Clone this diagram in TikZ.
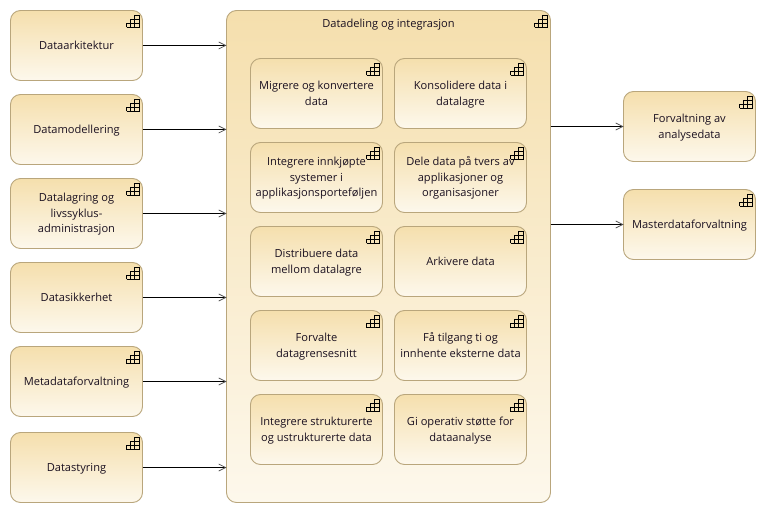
\documentclass[tikz,border=0pt]{standalone}
\usepackage{fontspec}
\setmainfont{Open Sans}
\usetikzlibrary{arrows.meta}
\definecolor{edgec}{HTML}{B9A67C}
\definecolor{topc}{HTML}{F5DFAD}
\definecolor{botc}{HTML}{FDF8EC}
\definecolor{txtc}{HTML}{1A1020}
\newcommand\tup{\rule{0pt}{12pt}}
\newcommand\tdn{\rule[-4pt]{0pt}{0pt}}
\tikzset{
  x=1pt,y=-1pt,
  iconline/.style={draw=black,line width=0.8pt},
  fnbox/.style={draw=edgec,line width=0.9pt,rounded corners=10pt,top color=topc,bottom color=botc,
    minimum width=132pt,minimum height=70pt,inner sep=0pt,outer sep=0pt,align=center,
    text=txtc,font=\fontsize{11.1}{15.5}\selectfont},
  group/.style={draw=edgec,line width=0.9pt,rounded corners=10pt,top color=topc,bottom color=botc,
    minimum width=324pt,minimum height=492pt,inner sep=0pt,outer sep=0pt},
  conn/.style={draw=black,line width=0.9pt,-{Straight Barb[length=7pt,width=7pt,line width=0.7pt,color=black!70]}},
  lbl/.style={text=txtc,font=\fontsize{11.1}{15.5}\selectfont,inner sep=0pt,anchor=base}
}
\begin{document}
\begin{tikzpicture}
\useasboundingbox (0,0) rectangle (766,513);
\node[group] (c) at (388.5,256.5) {};
\node[lbl] (title) at (388.5,27.3) {Datadeling og integrasjon};
\node[fnbox] (a1) at (76.5,45.5) {\tup Dataarkitektur\tdn};
\node[fnbox] (a2) at (76.5,129.5) {\tup Datamodellering\tdn};
\node[fnbox] (a3) at (76.5,213.5) {\tup Datalagring og\\livssyklus-\\administrasjon\tdn};
\node[fnbox] (a4) at (76.5,297.5) {\tup Datasikkerhet\tdn};
\node[fnbox] (a5) at (76.5,381.5) {\tup Metadataforvaltning\tdn};
\node[fnbox] (a6) at (76.5,467.5) {\tup Datastyring\tdn};
\node[fnbox] (b1) at (316.5,93.5) {\tup Migrere og konvertere\\data\tdn};
\node[fnbox] (b2) at (316.5,177.5) {\tup Integrere innkjøpte\\systemer i\\applikasjonsporteføljen\tdn};
\node[fnbox] (b3) at (316.5,261.5) {\tup Distribuere data\\mellom datalagre\tdn};
\node[fnbox] (b4) at (316.5,345.5) {\tup Forvalte\\datagrensesnitt\tdn};
\node[fnbox] (b5) at (316.5,429.5) {\tup Integrere strukturerte\\og ustrukturerte data\tdn};
\node[fnbox] (d1) at (460.5,93.5) {\tup Konsolidere data i\\datalagre\tdn};
\node[fnbox] (d2) at (460.5,177.5) {\tup Dele data på tvers av\\applikasjoner og\\organisasjoner\tdn};
\node[fnbox] (d3) at (460.5,261.5) {\tup Arkivere data\tdn};
\node[fnbox] (d4) at (460.5,345.5) {\tup Få tilgang ti og\\innhente eksterne data\tdn};
\node[fnbox] (d5) at (460.5,429.5) {\tup Gi operativ støtte for\\dataanalyse\tdn};
\node[fnbox] (r1) at (689.5,126.5) {\tup Forvaltning av\\analysedata\tdn};
\node[fnbox] (r2) at (689.5,224.5) {\tup Masterdataforvaltning\tdn};
\foreach \n in {a1,a2,a3,a4,a5,a6} \draw[conn] (\n.east) -- (\n.east -| c.west);
\foreach \n in {r1,r2} \draw[conn] (\n.west -| c.east) -- (\n.west);
\foreach \n in {c,a1,a2,a3,a4,a5,a6,b1,b2,b3,b4,b5,d1,d2,d3,d4,d5,r1,r2} {
  \begin{scope}[shift={(\n.north east)}]
    \draw[iconline] (-16,17) -- (-3.5,17) -- (-3.5,4.5) -- (-8,4.5) -- (-8,17);
    \draw[iconline] (-16,17) -- (-16,13) -- (-3.5,13);
    \draw[iconline] (-12,17) -- (-12,8.8) -- (-3.5,8.8);
  \end{scope}
}
\end{tikzpicture}
\end{document}
